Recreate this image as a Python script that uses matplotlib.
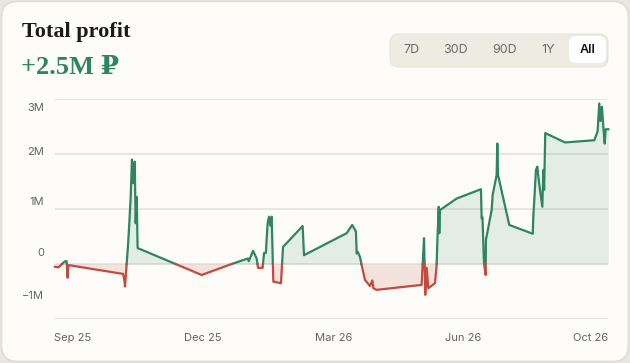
import numpy as np
import matplotlib
matplotlib.use("Agg")
import matplotlib.pyplot as plt
from matplotlib.patches import FancyBboxPatch
from matplotlib.transforms import IdentityTransform

# profit curve, days since start vs profit in millions of rubles
days = [0, 2.5, 7.2, 8.4, 9.1, 9.6, 49.0, 50.0, 50.4, 51.0, 51.6, 52.6, 53.5, 54.5,
        55.4, 56.4, 57.4, 58.1, 58.8, 59.5, 105.6, 127.2, 139.0, 139.5, 142.6, 145.2,
        146.2, 149.5, 150.5, 151.8, 153.1, 154.1, 155.0, 156.0, 157.2, 162.7, 164.2,
        178.3, 179.3, 210.0, 214.0, 216.7, 217.2, 218.0, 219.6, 220.8, 223.2, 226.8,
        228.5, 229.2, 231.6, 264.0, 265.7, 266.6, 267.6, 268.8, 273.6, 274.8, 275.3,
        276.3, 276.7, 277.2, 289.2, 306.7, 307.2, 307.8, 308.9, 310.1, 310.3, 314.4,
        315.1, 318.0, 318.5, 319.0, 327.1, 344.0, 344.4, 345.2, 346.3, 347.3, 348.3,
        349.2, 350.9, 351.6, 352.2, 353.0, 367.2, 388.3, 390.7, 391.9, 392.8, 393.8,
        394.8, 395.8, 396.5, 398.4]
profit = [-0.05, -0.06, 0.05, 0.05, -0.25, -0.02, -0.18, -0.30, -0.41, -0.20, 0.0, 0.35,
          0.74, 1.22, 1.90, 1.47, 1.86, 0.74, 1.22, 0.29, -0.20, 0.0, 0.10, 0.05, 0.24,
          0.10, -0.07, -0.07, 0.20, 0.20, 0.74, 0.86, 0.70, 0.86, -0.32, -0.35, 0.31,
          0.69, 0.16, 0.56, 0.71, 0.59, 0.19, 0.22, 0.13, -0.02, -0.29, -0.40, -0.30,
          -0.44, -0.47, -0.38, 0.47, -0.56, -0.07, -0.44, -0.35, -0.02, 0.41, 1.04, 0.56,
          0.98, 1.19, 1.36, 0.83, 0.85, 0.01, -0.20, 0.44, 0.98, 1.25, 1.62, 2.19, 1.62,
          0.71, 0.55, 0.86, 1.20, 1.71, 1.77, 1.53, 1.35, 1.04, 1.71, 1.35, 2.38, 2.21,
          2.25, 2.41, 2.92, 2.60, 2.86, 2.50, 2.19, 2.45, 2.45]

grid_values = [-1, 0, 1, 2, 3]
# the labels in the original sit a bit off their gridlines
ytick_pos = [2.855, 2.055, 1.145, 0.218, -0.564]
ytick_labels = ["3M", "2M", "1M", "0", "\u22121M"]
xtick_pos = [13, 106.6, 200.9, 293.8, 385.9]
xtick_labels = ["Sep 25", "Dec 25", "Mar 26", "Jun 26", "Oct 26"]
ranges = ["7D", "30D", "90D", "1Y", "All"]
total_text = "+2.5M \u20bd"

GREEN = "#2e8560"
RED = "#c24a3f"
BG = "#fdfcf8"

# insert zero crossings so the colour switch is clean
x = []
y = []
for i in range(len(days)):
    if i > 0 and (profit[i - 1] < 0 < profit[i] or profit[i - 1] > 0 > profit[i]):
        t = profit[i - 1] / (profit[i - 1] - profit[i])
        x.append(days[i - 1] + t * (days[i] - days[i - 1]))
        y.append(0.0)
    x.append(days[i])
    y.append(profit[i])
x = np.array(x)
y = np.array(y)

fig = plt.figure(figsize=(6.3, 3.63), dpi=100)
fig.patch.set_facecolor("#e8e7e2")

card = FancyBboxPatch((1.5, 1.5), 627, 360, boxstyle="round,pad=0,rounding_size=16",
                      transform=IdentityTransform(), facecolor=BG, edgecolor="#dedcd5",
                      linewidth=1.2, zorder=-10)
fig.patches.append(card)

fig.text(22 / 630, 1 - 32 / 363, "Total profit", family=["Liberation Serif", "DejaVu Serif"],
         fontsize=16, fontweight="bold", color="#1c1b19", va="center", ha="left")
fig.text(21 / 630, 1 - 68 / 363, total_text, family=["Liberation Serif", "DejaVu Serif"],
         fontsize=19, fontweight="bold", color=GREEN, va="center", ha="left")

# range selector
fig.patches.append(FancyBboxPatch((390, 363 - 67), 218, 33, boxstyle="round,pad=0,rounding_size=9",
                                  transform=IdentityTransform(), facecolor="#eeebe3",
                                  edgecolor="#e6e3da", linewidth=0.8, zorder=-9))
fig.patches.append(FancyBboxPatch((569, 363 - 63), 37, 27, boxstyle="round,pad=0,rounding_size=7",
                                  transform=IdentityTransform(), facecolor="#ffffff",
                                  edgecolor="none", zorder=-8))
for lab, px in zip(ranges, [411.5, 456, 505, 548, 587.5]):
    fig.text(px / 630, 1 - 50 / 363, lab, family=["Inter", "DejaVu Sans"], fontsize=9,
             color="#111111" if lab == "All" else "#6f6c66",
             fontweight="semibold" if lab == "All" else "normal", ha="center", va="center")

ax = fig.add_axes([55 / 630, 44 / 363, 553.3 / 630, 220 / 363])
ax.set_facecolor("none")
for gv in grid_values:
    ax.axhline(gv, color="#e8e6e0", linewidth=1.4, zorder=0)

ax.fill_between(x, np.maximum(y, 0), 0, color=GREEN, alpha=0.12, linewidth=0, zorder=1)
ax.fill_between(x, np.minimum(y, 0), 0, color=RED, alpha=0.14, linewidth=0, zorder=1)
ax.plot(x, np.where(y >= 0, y, np.nan), color=GREEN, linewidth=1.6, zorder=3,
        solid_joinstyle="round", clip_on=False)
ax.plot(x, np.where(y <= 0, y, np.nan), color=RED, linewidth=1.6, zorder=3,
        solid_joinstyle="round", clip_on=False)

ax.set_xlim(0, 398.4)
ax.set_ylim(-1, 3)
ax.set_yticks(ytick_pos)
ax.set_yticklabels(ytick_labels)
ax.set_xticks(xtick_pos)
ax.set_xticklabels(xtick_labels)
ax.tick_params(axis="both", length=0, labelsize=8, labelcolor="#666461")
ax.tick_params(axis="y", pad=8)
ax.tick_params(axis="x", pad=10)
for lab in ax.get_xticklabels() + ax.get_yticklabels():
    lab.set_family(["Inter", "DejaVu Sans"])
for s in ax.spines.values():
    s.set_visible(False)

fig.savefig("out.png", dpi=100, facecolor=fig.get_facecolor())
